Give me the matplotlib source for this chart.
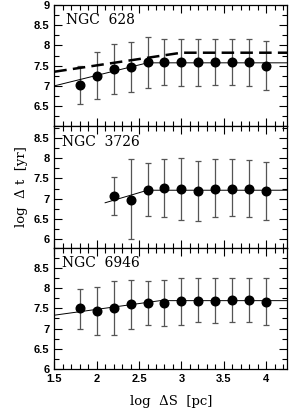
"""Time separation vs spatial separation for three galaxies."""

import matplotlib

matplotlib.use("Agg")
import matplotlib.pyplot as plt
from matplotlib.ticker import MultipleLocator, FixedLocator, FixedFormatter

# NGC 628
x_628 = [1.8, 2.0, 2.2, 2.4, 2.6, 2.8, 3.0, 3.2, 3.4, 3.6, 3.8, 4.0]
y_628 = [7.03, 7.25, 7.42, 7.47, 7.58, 7.60, 7.58, 7.59, 7.59, 7.59, 7.58, 7.50]
hi_628 = [7.50, 7.85, 8.03, 8.08, 8.20, 8.15, 8.17, 8.17, 8.17, 8.17, 8.17, 8.10]
lo_628 = [6.55, 6.68, 6.81, 6.86, 6.95, 7.03, 6.99, 7.00, 7.01, 7.01, 6.99, 6.91]
fit_628_x = [1.5, 2.6, 4.25]
fit_628_y = [7.00, 7.57, 7.57]
dash_628_x = [1.5, 3.0, 4.25]
dash_628_y = [7.35, 7.82, 7.82]

# NGC 3726
x_3726 = [2.2, 2.4, 2.6, 2.8, 3.0, 3.2, 3.4, 3.6, 3.8, 4.0]
y_3726 = [7.07, 6.98, 7.21, 7.26, 7.23, 7.18, 7.25, 7.25, 7.24, 7.19]
hi_3726 = [7.54, 7.98, 7.88, 7.99, 8.00, 7.93, 7.97, 7.97, 7.96, 7.91]
lo_3726 = [6.59, 6.00, 6.58, 6.56, 6.47, 6.45, 6.54, 6.57, 6.55, 6.47]
fit_3726_x = [2.1, 2.6, 4.25]
fit_3726_y = [6.90, 7.21, 7.21]

# NGC 6946
x_6946 = [1.8, 2.0, 2.2, 2.4, 2.6, 2.8, 3.0, 3.2, 3.4, 3.6, 3.8, 4.0]
y_6946 = [7.50, 7.44, 7.50, 7.60, 7.62, 7.64, 7.67, 7.69, 7.69, 7.70, 7.70, 7.66]
hi_6946 = [7.99, 8.02, 8.18, 8.20, 8.17, 8.20, 8.24, 8.24, 8.26, 8.26, 8.26, 8.24]
lo_6946 = [6.98, 6.85, 6.85, 7.00, 7.08, 7.07, 7.10, 7.15, 7.13, 7.17, 7.17, 7.08]
fit_6946_x = [1.5, 2.75, 4.25]
fit_6946_y = [7.33, 7.69, 7.69]

panels = [
    ("NGC  628", x_628, y_628, hi_628, lo_628, fit_628_x, fit_628_y, (6.0, 9.0),
     [6.5, 7, 7.5, 8, 8.5, 9], ["6.5", "7", "7.5", "8", "8.5", "9"]),
    ("NGC  3726", x_3726, y_3726, hi_3726, lo_3726, fit_3726_x, fit_3726_y, (5.79, 8.79),
     [6, 6.5, 7, 7.5, 8, 8.5], ["6", "6.5", "7", "7.5", "8", "8.5"]),
    ("NGC  6946", x_6946, y_6946, hi_6946, lo_6946, fit_6946_x, fit_6946_y, (6.0, 9.0),
     [6, 6.5, 7, 7.5, 8, 8.5], ["6", "6.5", "7", "7.5", "8", "8.5"]),
]

fig = plt.figure(figsize=(2.93, 4.16), dpi=100)
left, right = 0.1853, 0.9806
top, bottom = 0.988, 0.113
h = (top - bottom) / 3

tick_font = dict(family="Liberation Sans", weight="bold", size=8)

for i, (name, x, y, hi, lo, fx, fy, ylim, yt, ytl) in enumerate(panels):
    ax = fig.add_axes([left, top - (i + 1) * h, right - left, h])
    yerr = [[v - l for v, l in zip(y, lo)], [u - v for v, u in zip(y, hi)]]
    ax.errorbar(x, y, yerr=yerr, fmt="none", ecolor="#555555", elinewidth=0.9,
                capsize=2.5, capthick=0.9)
    ax.plot(x, y, "o", color="black", markersize=6.2)
    ax.plot(fx, fy, color="black", lw=0.7)
    if i == 0:
        ax.plot(dash_628_x, dash_628_y, color="black", lw=1.8, dashes=(5, 2.5))
    ax.set_xlim(1.5, 4.25)
    ax.set_ylim(*ylim)
    ax.xaxis.set_major_locator(MultipleLocator(0.5))
    ax.xaxis.set_minor_locator(MultipleLocator(0.1))
    ax.yaxis.set_major_locator(FixedLocator(yt))
    ax.yaxis.set_major_formatter(FixedFormatter(ytl))
    ax.yaxis.set_minor_locator(MultipleLocator(0.25))
    ax.tick_params(which="both", direction="in", top=True, right=True, width=0.8)
    ax.tick_params(which="major", length=6)
    ax.tick_params(which="minor", length=3.5)
    for lab in ax.get_yticklabels():
        lab.set(**tick_font)
    if i < 2:
        ax.tick_params(labelbottom=False)
    else:
        ax.set_xticks([1.5, 2, 2.5, 3, 3.5, 4])
        ax.set_xticklabels(["1.5", "2", "2.5", "3", "3.5", "4"])
        for lab in ax.get_xticklabels():
            lab.set(**tick_font)
    for s in ax.spines.values():
        s.set_linewidth(0.9)
    ax.text(0.05 if i == 0 else 0.035, 0.93, name, transform=ax.transAxes,
            ha="left", va="top", family="DejaVu Serif", size=10)
    if i == 1:
        ax.set_ylabel("log  \u0394 t  [yr]", family="DejaVu Serif", size=9.5,
                      labelpad=4)
    if i == 2:
        ax.set_xlabel("log  \u0394S  [pc]", family="DejaVu Serif", size=9.5,
                      labelpad=8)

fig.savefig("out.png", dpi=100)
